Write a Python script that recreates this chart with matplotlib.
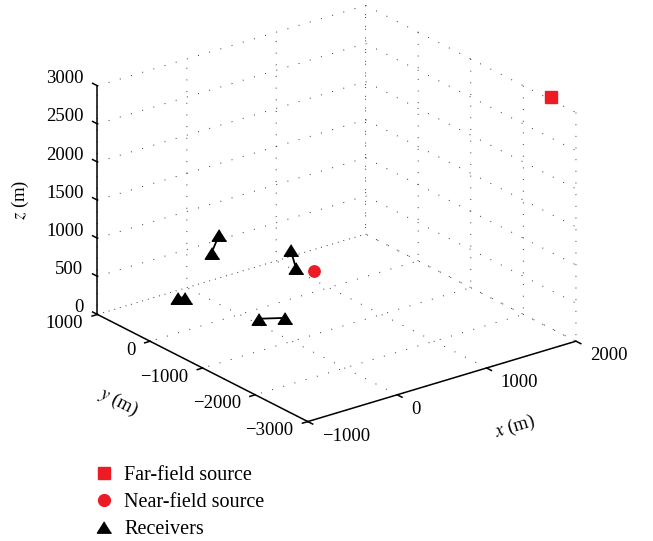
import numpy as np
import matplotlib
matplotlib.use("Agg")
import matplotlib.pyplot as plt
import matplotlib.transforms as mtransforms
from matplotlib.lines import Line2D
from mpl_toolkits.mplot3d import proj3d

plt.rcParams["font.family"] = ["Liberation Serif", "DejaVu Serif"]
plt.rcParams["mathtext.fontset"] = "stix"
plt.rcParams["grid.color"] = "0.2"
plt.rcParams["grid.linewidth"] = 0.7
plt.rcParams["grid.linestyle"] = (0, (1, 11))

# 数据 (m)
far_src = [2020, -2500, 3020]
near_src = [600, -400, 500]
rx = [-200, -150, 130, 220, 620, 620, 80, 270]
ry = [830, 780, 750, 760, 80, -20, -240, -400]
rz = [0, 0, 500, 700, 600, 400, 0, 0]

x_ticks = [-1000, 0, 1000, 2000]
y_ticks = [-3000, -2000, -1000, 0, 1000]
z_ticks = [0, 500, 1000, 1500, 2000, 2500, 3000]

red = "#ed1c24"
tri = [(0, 0.8), (-1, -0.8), (1, -0.8)]   # 宽三角形 (MATLAB 风格)
fs = 13.5

fig = plt.figure(figsize=(6.53, 5.41), dpi=100)
ax = fig.add_axes([0.0489, 0.1046, 0.9116, 0.9752], projection="3d", proj_type="ortho")
ax.view_init(elev=23, azim=-127.5)
ax.set_box_aspect((4, 4.09, 2.94))

xmin, xmax = x_ticks[0], x_ticks[-1]
ymin, ymax = y_ticks[0], y_ticks[-1]
zmin, zmax = z_ticks[0], z_ticks[-1]
ax.set_xlim(xmin, xmax)
ax.set_ylim(ymin, ymax)
ax.set_zlim(zmin, zmax)
ax.set_xticks(x_ticks)
ax.set_yticks(y_ticks)
ax.set_zticks(z_ticks)
ax.set_xticklabels([])
ax.set_yticklabels([])
ax.set_zticklabels([])

for axis in (ax.xaxis, ax.yaxis, ax.zaxis):
    axis.set_pane_color((1, 1, 1, 0))
    axis.pane.set_edgecolor((1, 1, 1, 0))
    axis.line.set_color("k")
    axis.line.set_linewidth(1.1)
    axis._axinfo["tick"]["inward_factor"] = 0.0
    axis._axinfo["tick"]["outward_factor"] = 0.0

# 刻度线（向外）
ty = 0.023 * (ymax - ymin)
tx = 0.02 * (xmax - xmin)
for v in x_ticks:
    ax.plot([v, v], [ymin, ymin - ty], [zmin, zmin], color="k", lw=1.1)
for v in y_ticks:
    ax.plot([xmin, xmin - tx], [v, v], [zmin, zmin], color="k", lw=1.1)
for v in z_ticks:
    ax.plot([xmin, xmin], [ymax, ymax + ty], [v, v], color="k", lw=1.1)

# 接收器成对连线
for i in range(0, len(rx), 2):
    ax.plot(rx[i:i+2], ry[i:i+2], rz[i:i+2], color="k", lw=1.3)

ax.plot([far_src[0]], [far_src[1]], [far_src[2]], "s", color=red, ms=8.3, mec=red)
ax.plot([near_src[0]], [near_src[1]], [near_src[2]], "o", color=red, ms=8.2, mec=red)
ax.plot(rx, ry, rz, marker=tri, color="k", ms=10.4, ls="none")

# 先画一次，得到投影矩阵
fig.canvas.draw()
M = ax.get_proj()


def proj(x, y, z):
    px, py, _ = proj3d.proj_transform(x, y, z, M)
    return px, py


def off(dx, dy):
    # 像素偏移
    return ax.transData + mtransforms.ScaledTranslation(dx / 100, dy / 100, fig.dpi_scale_trans)


def put(x, y, z, s, dx, dy, **kw):
    px, py = proj(x, y, z)
    return ax.text2D(px, py, s, transform=off(dx, dy), fontsize=fs, **kw)


def angle(p, q):
    a = ax.transData.transform(proj(*p))
    b = ax.transData.transform(proj(*q))
    return np.degrees(np.arctan2(b[1] - a[1], b[0] - a[0]))


def fmt(v):
    return str(v).replace("-", "\u2212")


for v in x_ticks:
    put(v, ymin, zmin, fmt(v), 14, -19, ha="left", va="baseline")
for v in y_ticks:
    put(xmin, v, zmin, fmt(v), -14.5, -13.5, ha="right", va="baseline")
for v in z_ticks:
    put(xmin, ymax, v, fmt(v), -14, 2.5, ha="right", va="baseline")

ang_x = angle((xmin, ymin, zmin), (xmax, ymin, zmin))
ang_y = angle((xmin, ymax, zmin), (xmin, ymin, zmin))
put((xmin + xmax) / 2, ymin, zmin, "$x$ (m)", 73.5, -45.5, ha="center", va="center",
    rotation=ang_x, rotation_mode="anchor")
put(xmin, (ymin + ymax) / 2, zmin, "$y$ (m)", -84.5, -34.5, ha="center", va="center",
    rotation=ang_y, rotation_mode="anchor")
put(xmin, ymax, (zmin + zmax) / 2, "$z$ (m)", -77, 0, ha="center", va="center",
    rotation=90, rotation_mode="anchor")

handles = [
    Line2D([], [], marker="s", color=red, ls="none", ms=8.3, label="Far-field source"),
    Line2D([], [], marker="o", color=red, ls="none", ms=8.5, label="Near-field source"),
    Line2D([], [], marker=tri, color="k", ls="none", ms=10.2, label="Receivers"),
]
fig.legend(handles=handles, loc="upper left", bbox_to_anchor=(0.144, 0.139),
           frameon=False, fontsize=14.5, handlelength=1.0, handletextpad=0.5,
           labelspacing=0.4, borderaxespad=0, borderpad=0)

fig.savefig("out.png", dpi=100)
